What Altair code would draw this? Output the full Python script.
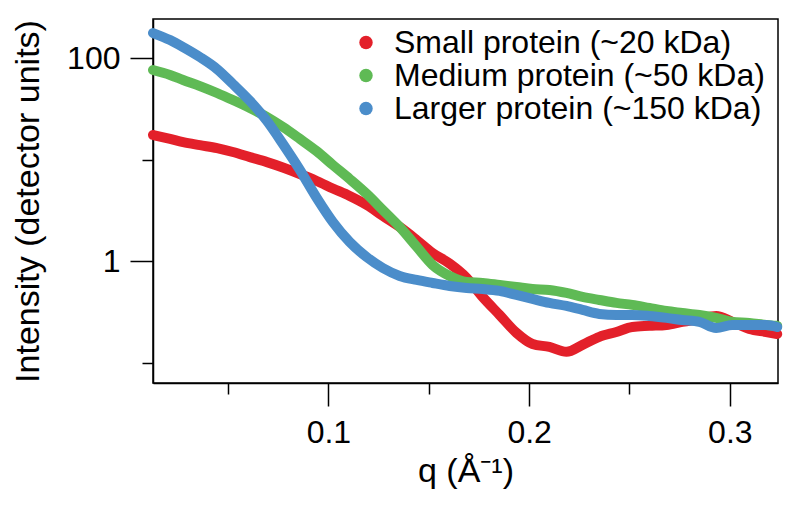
import altair as alt
import pandas as pd

# q values (1/Angstrom)
q = [0.0126, 0.0211, 0.0276, 0.0360, 0.0445, 0.0524, 0.0609, 0.0694, 0.0773, 0.0858,
     0.0942, 0.1022, 0.1106, 0.1191, 0.1271, 0.1355, 0.1440, 0.1519, 0.1604, 0.1689,
     0.1768, 0.1853, 0.1937, 0.2017, 0.2101, 0.2186, 0.2266, 0.2350, 0.2435, 0.2514,
     0.2599, 0.2684, 0.2763, 0.2848, 0.2932, 0.3012, 0.3097, 0.3181, 0.3236]

small = [17.5, 16.0, 14.9, 13.9, 13.0, 11.9, 10.6, 9.46, 8.38, 7.23,
         6.17, 5.21, 4.40, 3.59, 2.80, 2.18, 1.62, 1.21, 0.95, 0.687,
         0.447, 0.297, 0.198, 0.154, 0.144, 0.129, 0.151, 0.181, 0.202, 0.226,
         0.232, 0.237, 0.254, 0.271, 0.290, 0.254, 0.216, 0.202, 0.193]

medium = [76.2, 68.1, 60.8, 53.0, 45.3, 38.6, 32.2, 26.3, 21.0, 16.0,
          12.1, 8.87, 6.46, 4.60, 3.20, 2.18, 1.39, 0.922, 0.719, 0.627,
          0.613, 0.586, 0.560, 0.535, 0.523, 0.489, 0.447, 0.417, 0.390, 0.373,
          0.348, 0.325, 0.311, 0.297, 0.278, 0.254, 0.248, 0.237, 0.232]

larger = [176, 150, 128, 102, 77.9, 55.5, 37.8, 24.0, 14.3, 7.92,
          4.20, 2.44, 1.55, 1.10, 0.861, 0.719, 0.656, 0.613, 0.573, 0.548,
          0.535, 0.512, 0.467, 0.427, 0.390, 0.364, 0.333, 0.304, 0.297, 0.297,
          0.290, 0.278, 0.265, 0.254, 0.221, 0.237, 0.237, 0.237, 0.226]

series_names = ["Small protein (~20 kDa)", "Medium protein (~50 kDa)", "Larger protein (~150 kDa)"]
series_colors = ["#e3202a", "#5fba55", "#4b8dca"]

y_ticks = [0.1, 1, 10, 100]
x_ticks = [0.05, 0.1, 0.15, 0.2, 0.25, 0.3]

rows = []
for k, (name, vals) in enumerate(zip(series_names, [small, medium, larger])):
    for qq, v in zip(q, vals):
        rows.append({"q": qq, "I": v, "series": name, "k": k})
df = pd.DataFrame(rows)

FONT = "Liberation Sans"

x_enc = alt.X(
    "q:Q",
    scale=alt.Scale(domain=[0.0126, 0.324], nice=False, zero=False),
    axis=alt.Axis(
        values=x_ticks,
        title="q (Å⁻¹)",
        tickSize={"condition": {"test": "abs(datum.value*10 - round(datum.value*10)) < 0.001", "value": 23}, "value": 11},
        labelExpr="abs(datum.value*10 - round(datum.value*10)) < 0.001 ? format(datum.value, '.1f') : ''",
        labelPadding=11,
        titlePadding=6,
        labelFlush=False,
        labelOverlap=False,
    ),
)
y_enc = alt.Y(
    "I:Q",
    scale=alt.Scale(type="log", domain=[0.0636, 242], nice=False),
    axis=alt.Axis(
        values=y_ticks,
        title="Intensity (detector units)",
        tickSize={"condition": {"test": "datum.value == 1 || datum.value == 100", "value": 23}, "value": 11},
        labelExpr="datum.value == 100 ? '100' : (datum.value == 1 ? '1' : '')",
        labelPadding=10,
        titlePadding=21,
        labelOverlap=False,
    ),
)

color_scale = alt.Scale(domain=series_names, range=series_colors)

legend = alt.Legend(
    orient="none",
    legendX=197,
    legendY=7,
    title=None,
    labelFont=FONT,
    labelFontSize=32,
    labelColor="black",
    symbolType="circle",
    symbolSize=180,
    symbolStrokeWidth=0,
    labelOffset=12,
    rowPadding=0,
    clipHeight=33,
    padding=0,
    labelLimit=600,
)

color_enc = alt.Color("series:N", scale=color_scale, sort=series_names, legend=legend)

pts = alt.Chart(df).mark_circle(size=60, opacity=1).encode(
    x=x_enc,
    y=y_enc,
    color=color_enc,
)

line = alt.Chart(df).mark_line(
    strokeWidth=10, strokeCap="round", strokeJoin="round", interpolate="monotone"
).encode(
    x=x_enc,
    y=y_enc,
    order=alt.Order("q:Q"),
    color=color_enc,
)

chart = (
    alt.layer(pts, line)
    .properties(
        width=625,
        height=364,
        autosize=alt.AutoSizeParams(type="none"),
        padding={"left": 145, "top": 11, "right": 14, "bottom": 110},
    )
    .configure_view(stroke="black", strokeWidth=1.5)
    .configure_axis(
        grid=False,
        domainColor="black",
        domainWidth=1.5,
        tickColor="black",
        tickWidth=1.5,
        labelFont=FONT,
        labelFontSize=32,
        labelColor="black",
        titleFont=FONT,
        titleFontSize=34,
        titleFontWeight="normal",
        titleColor="black",
    )
)

chart.save("out.html", embed_options={"renderer": "svg", "actions": False})
